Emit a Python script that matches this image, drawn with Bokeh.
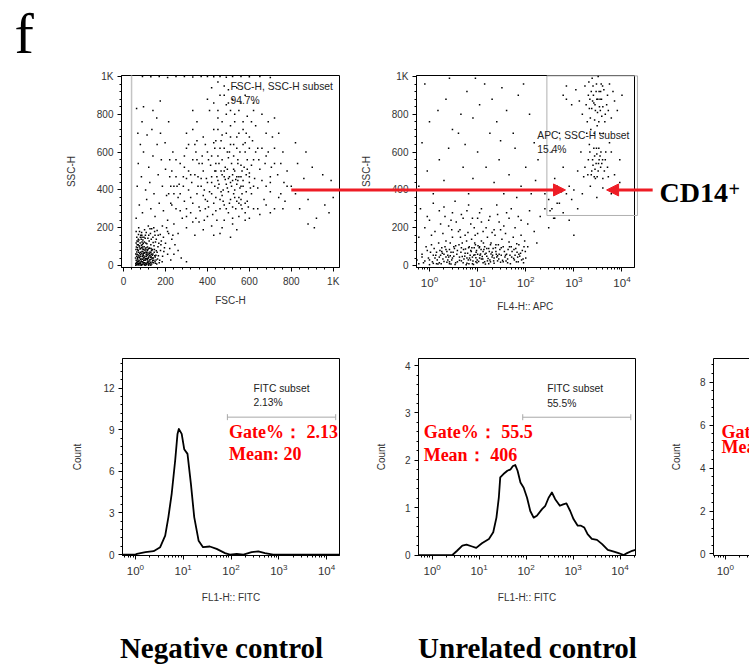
import numpy as np
from bokeh.plotting import figure
from bokeh.models import (Label, Arrow, NormalHead, SingleIntervalTicker, FixedTicker,
                          LogTickFormatter, Range1d, LogScale, LinearAxis, LogAxis)
from bokeh.embed import file_html
from bokeh.resources import INLINE

# ---------------- data ----------------
# Panel 1: FSC-H vs SSC-H
fsc_ssc_points = [
    (62,5),(70,12),(78,3),(85,20),(92,8),(100,15),(108,4),(115,25),(122,10),(130,2),
    (68,30),(75,42),(83,35),(90,50),(97,28),(104,38),(112,55),(120,45),(128,32),(136,18),
    (64,60),(72,70),(80,58),(88,75),(95,65),(102,80),(110,68),(118,88),(126,72),(134,60),
    (142,40),(150,22),(158,8),(66,95),(74,105),(82,90),(90,112),(98,100),(106,120),(114,98),
    (122,130),(130,110),(138,85),(146,70),(154,55),(162,35),(170,15),(60,120),(70,140),(80,150),
    (92,135),(104,160),(116,145),(128,170),(140,150),(152,125),(164,100),(176,80),(186,50),(60,180),
    (72,200),(86,175),(100,190),(118,210),(134,195),(148,180),(165,160),(180,130),(195,95),(210,60),
    (225,30),(65,20),(73,52),(81,10),(87,63),(94,40),(99,6),(107,72),(113,33),(119,14),
    (125,52),(133,78),(139,26),(145,105),(57,40),(59,85),(63,150),(96,85),(111,115),(88,125),
    (76,180),(124,92),(141,122),(156,140),(168,118),(190,150),(200,118),(215,170),(230,140),(245,110),
    (260,80),(240,60),(275,40),(300,20),(66,8),(84,2),(102,28),(117,6),(71,22),(93,18),
    (61,16),(67,44),(69,3),(74,26),(77,65),(79,18),(82,48),(86,6),(89,33),(91,88),
    (93,58),(96,14),(98,42),(101,68),(103,2),(105,30),(107,95),(109,48),(111,12),(114,78),
    (116,38),(117,58),(121,22),(123,65),(127,8),(129,44),(131,90),(135,35),(137,55),(143,15),
    (147,85),(151,45),(155,30),(160,70),(166,52),(172,28),(178,110),(184,20),(192,75),(58,10),
    (63,72),(65,110),(69,128),(71,165),(84,140),(87,160),(99,125),(103,145),(108,175),(120,160),
    (126,195),(132,140),(144,200),(150,160),(160,185),(175,165),(185,210),(205,200),(220,90),(235,160),
    (58,2),(60,28),(62,50),(64,14),(66,36),(68,58),(70,80),(72,6),(74,46),(76,12),
    (78,88),(80,34),(82,70),(84,24),(86,96),(88,4),(90,20),(92,74),(94,52),(96,28),
    (98,66),(100,4),(102,50),(104,88),(106,12),(108,60),(110,36),(112,84),(114,18),(116,66),
    (118,40),(120,2),(122,92),(124,30),(126,56),(128,18),(130,68),(132,46),(134,8),(136,84),
    (138,40),(140,62),(144,28),(148,52),(152,12),(156,78),(58,62),(61,98),(64,130),(67,84),
    (70,110),(73,135),(76,98),(79,120),(82,160),(85,108),(88,150),(91,98),(94,118),(97,150),
    (60,250),(75,320),(90,280),(110,350),(130,300),(150,260),(170,330),(190,290),(210,240),(65,420),
    (85,470),(105,400),(125,440),(145,380),(165,480),(185,420),(205,370),(225,330),(70,540),(95,600),
    (120,520),(140,580),(160,640),(180,560),(200,510),(220,470),(68,700),(88,760),(112,690),(135,720),
    (158,780),(176,700),(198,650),(62,830),(95,840),(140,820),(175,870),(215,760),(235,600),(80,640),
    (240,420),(210,180),(240,220),(260,170),(280,250),(300,200),(320,280),(340,160),(360,230),(380,190),
    (400,260),(420,210),(440,290),(460,170),(480,240),(500,280),(520,220),(550,260),(580,240),(620,300),
    (650,270),(700,280),(300,260),(330,230),(270,290),(250,300),(390,300),(430,160),(470,200),(510,150),
    (540,190),(230,320),(260,360),(290,340),(310,400),(330,330),(350,380),(370,420),(390,350),(410,390),
    (430,330),(450,410),(470,370),(490,430),(510,350),(530,400),(550,360),(570,420),(590,340),(610,380),
    (640,410),(670,350),(700,390),(740,360),(780,420),(360,310),(400,440),(440,360),(480,320),(520,450),
    (560,320),(600,440),(460,350),(500,390),(540,430),(420,440),(380,370),(540,340),(560,350),(580,330),
    (530,360),(250,470),(290,520),(320,480),(350,560),(380,500),(400,600),(420,470),(440,540),(460,620),
    (480,500),(500,570),(520,480),(540,620),(560,530),(580,600),(600,490),(620,560),(650,510),(680,580),
    (720,540),(760,600),(300,620),(340,640),(430,650),(470,560),(510,640),(550,470),(590,560),(640,620),
    (700,470),(300,700),(350,760),(380,680),(410,820),(430,720),(450,780),(470,690),(490,850),(510,740),
    (530,800),(550,700),(570,760),(600,680),(630,740),(680,700),(720,780),(400,880),(460,900),(520,880),
    (560,860),(620,820),(330,820),(440,660),(490,700),(580,650),(90,1000),(130,998),(170,1000),(210,995),
    (250,1000),(290,1000),(330,997),(370,1000),(400,1000),(430,999),(460,1000),(490,996),(520,1000),(560,1000),
    (600,998),(650,1000),(700,995),(450,970),(480,950),(420,940),(500,930),(800,420),(820,380),(840,300),
    (860,460),(880,350),(900,520),(920,250),(940,400),(960,320),(980,280),(1000,360),(830,540),(870,600),
    (910,200),(950,480),(990,450),(780,500),(760,300),(820,650),(880,220),(445,470),(465,500),(485,455),
    (505,470),(525,510),(455,430),(475,400),(495,510),(515,420),(545,450),(565,380),(435,500),(415,530),
    (395,460),(375,540),(355,470),(605,410),(625,460),(585,480),(565,500),(545,540),(525,580),(505,600),
    (420,380),(435,420),(450,450),(465,390),(480,470),(495,410),(510,440),(525,380),(540,470),(555,410),
    (570,450),(585,390),(600,470),(440,500),(455,540),(470,480),(485,520),(500,460),(515,540),(530,500),
    (545,560),(560,470),(575,520),(590,510),(610,530),(460,300),(475,340),(490,300),(505,330),(520,310),
    (535,300),(550,330),(565,300),(580,280),(595,310),(400,340),(385,400),(370,460),(355,420),(340,480),
    (325,440),(310,500),(300,460),(285,420),(270,380),(255,420),(240,380),(225,420),(215,380),(330,560),
    (345,600),(360,540),(375,580),(390,640),(405,560),(420,580),(435,620),(450,580),(465,660),(480,620),
    (495,600),(510,680),(525,640),(540,680),(555,600),(570,640),(585,700),(600,620),(615,660),(630,600),
    (645,560),(660,620),(675,540),(690,600),(705,520),(720,620),(735,480),(750,540),(765,440),(450,720),
    (470,760),(490,800),(510,820),(530,760),(550,820),(570,720),(590,790),(610,760),(450,820),(430,860),
    (480,900),(500,860),(540,940),(580,900),(620,860),(660,800),(690,760),(710,680),(740,700),(350,660),
    (330,720),(310,640),(290,580),(270,540),(250,560),(230,500),(220,560),(285,470),(265,430),(300,300),
    (320,360),(345,250),(365,290),(385,240),(405,310),(425,270),(445,240),(520,250),(600,250),(640,300),
    (680,320),(720,300),(750,380),(770,340),(660,450),(620,420),(680,420),(700,440),(560,420),(535,455)]
fsc = [pt[0] for pt in fsc_ssc_points]
ssc1 = [pt[1] for pt in fsc_ssc_points]

# Panel 2: FL4-H APC vs SSC-H
apc_ssc_points = [
    (0.6,10),(0.8,25),(1.0,5),(1.3,40),(1.6,15),(2.0,60),(2.4,30),(2.8,8),(3.2,50),(3.8,20),
    (4.5,70),(5.2,35),(6.0,12),(7.0,55),(8.0,25),(9.5,80),(11,40),(13,15),(15,65),(18,30),
    (21,90),(25,45),(30,18),(36,75),(42,35),(50,100),(60,55),(70,20),(85,80),(100,40),
    (0.7,45),(0.9,80),(1.1,110),(1.4,70),(1.8,95),(2.2,130),(2.6,85),(3.0,150),(3.5,105),(4.0,180),
    (4.8,120),(5.5,160),(6.5,95),(7.5,140),(9,110),(10,170),(12,130),(14,100),(16,150),(19,120),
    (23,160),(27,110),(32,140),(38,170),(45,125),(55,150),(65,115),(80,160),(95,130),(110,100),
    (0.6,150),(0.8,200),(1.0,240),(1.3,180),(1.7,220),(2.1,260),(2.5,210),(3.0,280),(3.6,230),(4.3,190),
    (5.0,250),(6.0,290),(7.2,220),(8.5,200),(10,250),(12,230),(15,200),(18,260),(22,190),(28,230),
    (35,210),(45,250),(60,200),(80,240),(110,220),(1.5,8),(2.3,18),(3.4,6),(4.2,28),(5.8,4),
    (6.8,40),(7.8,10),(8.8,58),(10.5,22),(12.5,48),(14.5,8),(16.5,38),(19,62),(22,12),(26,52),
    (33,28),(40,60),(48,10),(56,38),(66,70),(75,50),(90,15),(1.9,35),(2.7,52),(4.8,48),
    (5.6,88),(6.4,30),(9.2,42),(11.5,62),(13.5,85),(0.65,300),(1.2,330),(2.0,310),(3.4,340),(6.5,320),
    (12,300),(25,320),(50,300),(120,290),(150,180),(170,120),(200,260),(250,300),(2.2,45),(2.6,20),
    (3.1,70),(1.2,12),(1.7,55),(7.4,75),(8.2,6),(9.8,30),(10.8,95),(17,10),(20,45),(24,75),
    (0.55,30),(0.7,60),(0.75,15),(0.85,100),(0.95,40),(1.05,70),(1.15,20),(1.25,90),(1.35,55),(1.45,30),
    (1.55,120),(1.65,80),(1.75,10),(1.85,65),(2.1,100),(2.3,75),(2.5,45),(2.7,120),(2.9,30),(3.3,90),
    (3.7,60),(4.1,110),(4.6,25),(5.1,85),(5.4,50),(5.9,130),(6.2,65),(6.7,100),(7.1,30),(7.6,95),
    (8.3,55),(8.7,120),(9.3,70),(9.7,15),(10.2,105),(11.2,55),(11.8,85),(12.8,35),(13.2,120),(14.2,60),
    (15.5,90),(16,25),(17.5,75),(18.5,110),(20.5,55),(21.5,25),(23.5,95),(24.5,60),(27.5,35),(29,85),
    (31,55),(34,100),(37,45),(39,25),(43,85),(47,55),(52,75),(58,30),(62,90),(68,45),
    (72,110),(78,65),(88,35),(98,75),(1.1,160),(1.9,170),(2.9,190),(4.4,150),(6.3,175),(8.9,160),
    (13,180),(20,175),(30,190),(0.9,260),(1.6,290),(2.8,240),(4.6,270),(7.8,250),(11,280),(17,240),
    (26,270),(40,280),(70,260),
    (1.0,30),(1.2,55),(1.4,10),(1.6,45),(1.8,75),(2.0,22),(2.2,85),(2.4,55),(2.6,10),(2.8,70),
    (3.0,40),(3.2,100),(3.5,15),(3.8,80),(4.2,45),(4.6,95),(5.0,15),(5.5,65),(6.0,40),(6.6,10),
    (7.2,80),(7.8,45),(8.5,95),(9.2,20),(10,60),(11,100),(12,35),(13,75),(14,20),(15.5,50),
    (17,90),(18.5,20),(20,70),(22,40),(24,110),(26,25),(28,60),(31,95),(34,20),(38,55),
    (42,15),(46,100),(51,45),(57,85),(64,20),(72,60),(82,30),(92,100),
    (0.6,420),(0.9,500),(1.2,380),(1.6,560),(2.0,450),(2.5,620),(3.2,400),(4.0,700),(5,520),(6.5,380),
    (8,460),(10,600),(12,400),(15,520),(18,700),(22,440),(28,560),(35,380),(45,480),(60,620),
    (80,420),(100,520),(130,380),(160,450),(0.7,650),(1.0,760),(1.5,820),(2.2,880),(3,720),(4.5,800),
    (6,920),(8,780),(11,850),(14,960),(20,880),(25,760),(32,940),(40,820),(55,700),(70,900),
    (90,960),(120,800),(150,650),(180,560),(0.8,960),(2.6,990),(9,990),(5.5,640),(30,660),(65,360),
    (250,380),(300,200),(350,300),(400,250),(450,420),(500,330),(600,280),(700,380),(800,240),(900,350),
    (1000,160),(1200,300),(600,520),(400,460),(350,600),(500,700),(700,880),
    (1500,800),(1800,850),(2000,900),(2200,780),(2500,950),(2800,820),(3000,880),(3300,760),(3600,920),(4000,840),
    (4500,800),(5000,900),(5500,960),(6000,780),(7000,870),(1700,950),(2400,990),(3200,1000),(2600,860),(2900,920),
    (3400,840),(3800,790),(2100,830),(4200,930),(1300,870),(8000,820),(10000,900),(3100,810),(2700,770),(3500,880),
    (2300,920),(4800,850),(1900,760),(5200,820),(6500,920),(2450,870),(3700,960),(2050,970),(4400,760),
    (2150,880),(2350,830),(2550,900),(2750,850),(2950,960),(3150,880),(3350,920),(3550,820),(3750,880),(3950,950),
    (2250,720),(2650,700),(3050,740),(3450,700),(4100,700),(1850,700),
    (1400,600),(1700,520),(2000,560),(2300,480),(2600,620),(2900,540),(3200,500),(3500,580),(4000,460),(4500,560),
    (5000,520),(6000,600),(7000,480),(2100,640),(2800,460),(3300,620),(3800,540),(4300,500),(1600,470),(2500,530),
    (3000,590),(5500,650),(9000,560),(1200,500),(2700,580),(3600,520),
    (2150,600),(2450,560),(2750,510),(3050,470),(3350,560),(3650,600),(3950,560),(2350,500),(2650,470),(2950,620),
    (3250,540),(1950,480),(4600,600),(5200,470),
    (1000,400),(1500,380),(2200,420),(3000,360),(4000,410),(6000,380),(800,420),(9000,440),
    (300,350),(450,330),(550,390),(320,290),(380,250),(600,900),(700,950),(900,850),(1100,930)]
apc = [pt[0] for pt in apc_ssc_points]
ssc2 = [pt[1] for pt in apc_ssc_points]

# Gates
fsc_gate_left = 38
apc_gate_x = [275, 21000]
apc_gate_ssc = [265, 1003]

# Arrow anchor values (data units of the dot plots)
arrow_ssc = 400
arrow1_fsc_start = 800
arrow1_apc_end = 670
arrow2_apc_start = 43400
arrow2_apc_end = 4790

# Histograms (FL1-H FITC, Count)
neg_fitc = [0.54, 1.0, 1.08, 1.62, 2.4, 3.3, 4.2, 4.9, 5.75, 6.8, 7.6, 8.1, 9.3, 10.5, 12.3,
            14.5, 17, 21, 26, 36, 50, 75, 95, 132, 182, 270, 372, 513, 760, 18600]
neg_count = [0, 0, 0.05, 0.17, 0.24, 0.53, 1.37, 2.7, 4.4, 6.8, 8.7, 9.06, 8.7, 7.6, 7.26,
             5.1, 2.7, 1.0, 0.53, 0.58, 0.41, 0.1, 0.0, 0.05, 0, 0.17, 0.22, 0.1, 0, 0]

unrel_fitc = [0.5, 2.7, 3.4, 4.4, 5.4, 7.1, 8.7, 11.5, 16.2, 20, 23.4, 26.3, 28.2, 33, 40, 47,
              52.5, 59, 66, 76, 89, 105, 123, 145, 170, 219, 257, 302, 355, 417, 525, 617,
              724, 871, 1023, 1259, 1479, 1738, 2042, 2512, 3236, 4169, 5495, 7413, 9333,
              12023, 14125, 18197, 21380]
unrel_count = [0, 0, 0.09, 0.2, 0.22, 0.18, 0.15, 0.25, 0.34, 0.48, 0.79, 1.21, 1.64, 1.71,
               1.78, 1.81, 1.88, 1.9, 1.78, 1.53, 1.42, 1.21, 0.93, 0.79, 0.83, 0.97, 1.04,
               1.21, 1.32, 1.18, 1.04, 1.07, 1.09, 0.93, 0.76, 0.62, 0.62, 0.58, 0.44, 0.34,
               0.32, 0.23, 0.11, 0.07, 0.04, 0.0, 0.04, 0.09, 0.11]

neg_gate_x = [84, 15500]
neg_gate_y = 9.91
unrel_gate_x = [85, 17000]
unrel_gate_y = 2.91

RED_TEXT = "#ff0000"
RED_ARROW = "#ee1c25"
SANS = "Liberation Sans"
SERIF = "Liberation Serif"

# ---------------- geometry (page pixels, y downward) ----------------
W, H = 749, 664
# name: (data/log start, data/log end, pixel start, pixel end, log?)
X_PANELS = {
    "A": (-10, 1030, 121, 339, False),
    "B": (-0.27, 4.26, 416, 634, True),
    "C": (-0.27, 4.27, 122, 339, True),
    "D": (-0.29, 4.33, 418, 635, True),
    "E": (-0.25, 0.51, 713, 749, True),
}
# name: (data start, data end, pixel bottom, pixel top)
Y_PANELS = {
    "top": (-10, 1005, 267, 75),
    "C": (-0.07, 14.14, 555, 358),
    "D": (-0.01, 4.15, 555, 358),
    "E": (-0.07, 9.1, 555, 358),
}


def extend(d0, d1, p0, p1, total):
    k = (p1 - p0) / (d1 - d0)
    return d0 - p0 / k, d1 + (total - p1) / k


p = figure(width=W, height=H, x_range=Range1d(0, W), y_range=Range1d(H, 0),
           min_border=0, x_axis_location=None, y_axis_location=None,
           output_backend="svg", toolbar_location=None, title=None)
p.grid.visible = False
p.outline_line_color = None
p.background_fill_color = "white"
p.border_fill_color = "white"

xr, xs, xbounds = {}, {}, {}
for name, (d0, d1, a, b, is_log) in X_PANELS.items():
    lo, hi = extend(d0, d1, a, b, W)
    if is_log:
        xr[name] = Range1d(10 ** lo, 10 ** hi)
        xs[name] = LogScale()
        xbounds[name] = (10 ** d0, 10 ** d1)
    else:
        xr[name] = Range1d(lo, hi)
        xbounds[name] = (d0, d1)
yr, ybounds = {}, {}
for name, (d0, d1, pb, pt) in Y_PANELS.items():
    lo, hi = extend(d0, d1, H - pb, H - pt, H)
    yr[name] = Range1d(lo, hi)
    ybounds[name] = (d0, d1)
p.extra_x_ranges = xr
p.extra_y_ranges = yr
p.extra_x_scales = xs

log_major = [1, 10, 100, 1000, 10000]
log_minor = [m * 10 ** k for k in range(-1, 5) for m in range(2, 10)]


def style_axis(ax, label_size="10px"):
    ax.axis_line_color = "black"
    ax.major_tick_line_color = "black"
    ax.minor_tick_line_color = "black"
    ax.major_tick_in = 0
    ax.major_tick_out = 4
    ax.minor_tick_in = 0
    ax.minor_tick_out = 2
    ax.major_label_text_font = SANS
    ax.major_label_text_font_size = label_size
    ax.major_label_text_color = "#333333"
    ax.axis_label_text_font = SANS
    ax.axis_label_text_font_size = "10px"
    ax.axis_label_text_font_style = "normal"
    ax.axis_label_text_color = "#333333"
    ax.major_label_standoff = 4


def panel_axes(xn, yn, xlabel, ylabel, yticker, ylab_standoff, xlab_standoff, overrides=None):
    x_is_log = X_PANELS[xn][4]
    xb, yb = xbounds[xn], ybounds[yn]
    if x_is_log:
        lo, hi = xb
        xa = LogAxis(x_range_name=xn, y_range_name=yn, fixed_location=yb[0], bounds=xb,
                     ticker=FixedTicker(ticks=[t for t in log_major if lo <= t <= hi],
                                        minor_ticks=[t for t in log_minor if lo <= t <= hi]),
                     formatter=LogTickFormatter())
        style_axis(xa, "11.5px")
    else:
        xa = LinearAxis(x_range_name=xn, y_range_name=yn, fixed_location=yb[0], bounds=xb,
                        ticker=SingleIntervalTicker(interval=200, num_minor_ticks=5))
        style_axis(xa)
        if overrides:
            xa.major_label_overrides = overrides
    xa.axis_label = xlabel
    xa.axis_label_standoff = xlab_standoff
    p.add_layout(xa, "below")
    ya = LinearAxis(x_range_name=xn, y_range_name=yn, fixed_location=xb[0], bounds=yb,
                    ticker=yticker)
    style_axis(ya)
    if overrides:
        ya.major_label_overrides = overrides
    ya.axis_label = ylabel
    ya.axis_label_standoff = ylab_standoff
    p.add_layout(ya, "left")


def outline(xn, yn):
    (x0, x1), (y0, y1) = xbounds[xn], ybounds[yn]
    p.quad(left=[x0], right=[x1], bottom=[y0], top=[y1], fill_color=None,
           line_color="black", line_width=1, x_range_name=xn, y_range_name=yn)


def lab(x, y, text, size, color="#222222", font=SANS, bold=False, align="left",
        baseline="middle", xn="default", yn="default"):
    p.add_layout(Label(x=x, y=y, text=text, text_font=font, text_font_size=size,
                       text_color=color, text_font_style="bold" if bold else "normal",
                       text_align=align, text_baseline=baseline,
                       x_range_name=xn, y_range_name=yn))


DOT = 1.5

# ---------------- panel A ----------------
outline("A", "top")
panel_axes("A", "top", "FSC-H", "SSC-H",
           SingleIntervalTicker(interval=200, num_minor_ticks=5), 17, 5, {1000: "1K"})
p.segment(x0=[fsc_gate_left], y0=[ybounds["top"][0]], x1=[fsc_gate_left], y1=[ybounds["top"][1]],
          line_color="#c4c4c4", line_width=1.5, x_range_name="A", y_range_name="top")
p.scatter(fsc, ssc1, marker="square", size=DOT, color="black", line_width=0,
          x_range_name="A", y_range_name="top")
lab(510, 947, "FSC-H, SSC-H subset", "10.3px", xn="A", yn="top")
lab(510, 873, "94.7%", "10.3px", xn="A", yn="top")

# ---------------- panel B ----------------
outline("B", "top")
panel_axes("B", "top", "FL4-H:: APC", "SSC-H",
           SingleIntervalTicker(interval=200, num_minor_ticks=5), 17, 11, {1000: "1K"})
p.quad(left=[apc_gate_x[0]], right=[apc_gate_x[1]], bottom=[apc_gate_ssc[0]],
       top=[apc_gate_ssc[1]], fill_color=None, line_color="#b0b0b0", line_width=1,
       x_range_name="B", y_range_name="top")
p.scatter(apc, ssc2, marker="square", size=DOT, color="black", line_width=0,
          x_range_name="B", y_range_name="top")
lab(174, 688, "APC, SSC-H subset", "10.3px", xn="B", yn="top")
lab(174, 612, "15.4%", "10.3px", xn="B", yn="top")

# ---------------- panel C ----------------
outline("C", "C")
panel_axes("C", "C", "FL1-H:: FITC", "Count",
           SingleIntervalTicker(interval=3, num_minor_ticks=5), 17, 14)
p.line(neg_fitc, neg_count, line_color="black", line_width=1.8, line_join="round",
       x_range_name="C", y_range_name="C")
p.line(neg_gate_x, [neg_gate_y] * 2, line_color="#a8a8a8", line_width=1,
       x_range_name="C", y_range_name="C")
p.scatter(neg_gate_x, [neg_gate_y] * 2, marker="dash", angle=np.pi / 2, size=6,
          line_color="#a8a8a8", line_width=1, x_range_name="C", y_range_name="C")
lab(295, 11.95, "FITC subset", "10.3px", xn="C", yn="C")
lab(295, 10.95, "2.13%", "10.3px", xn="C", yn="C")
lab(91, 8.82, "Gate%： 2.13", "18px", color=RED_TEXT, font=SERIF, bold=True, xn="C", yn="C")
lab(91, 7.27, "Mean: 20", "18px", color=RED_TEXT, font=SERIF, bold=True, xn="C", yn="C")

# ---------------- panel D ----------------
outline("D", "D")
panel_axes("D", "D", "FL1-H:: FITC", "Count",
           SingleIntervalTicker(interval=1, num_minor_ticks=5), 15, 14)
p.line(unrel_fitc, unrel_count, line_color="black", line_width=1.8, line_join="round",
       x_range_name="D", y_range_name="D")
p.line(unrel_gate_x, [unrel_gate_y] * 2, line_color="#a8a8a8", line_width=1,
       x_range_name="D", y_range_name="D")
p.scatter(unrel_gate_x, [unrel_gate_y] * 2, marker="dash", angle=np.pi / 2, size=6,
          line_color="#a8a8a8", line_width=1, x_range_name="D", y_range_name="D")
lab(281, 3.51, "FITC subset", "10.3px", xn="D", yn="D")
lab(281, 3.21, "55.5%", "10.3px", xn="D", yn="D")
lab(0.66, 2.59, "Gate%： 55.5", "18px", color=RED_TEXT, font=SERIF, bold=True, xn="D", yn="D")
lab(0.66, 2.12, "Mean： 406", "18px", color=RED_TEXT, font=SERIF, bold=True, xn="D", yn="D")

# ---------------- panel E (cut off at the right edge) ----------------
panel_axes("E", "E", "", "Count", SingleIntervalTicker(interval=2, num_minor_ticks=5), 15, 14)
p.segment(x0=[xbounds["E"][0]], y0=[ybounds["E"][1]], x1=[xbounds["E"][1]], y1=[ybounds["E"][1]],
          line_color="black", line_width=1, x_range_name="E", y_range_name="E")
lab(0.83, 5.67, "Gate%：", "18px", color=RED_TEXT, font=SERIF, bold=True, xn="E", yn="E")
lab(0.83, 4.97, "Mean：", "18px", color=RED_TEXT, font=SERIF, bold=True, xn="E", yn="E")


# ---------------- arrows and figure texts (page pixel coordinates) ----------------
def px_x(name, v):
    d0, d1, a, b, is_log = X_PANELS[name]
    t = np.log10(v) if is_log else v
    return a + (t - d0) / (d1 - d0) * (b - a)


def px_y(name, v):
    d0, d1, pb, pt = Y_PANELS[name]
    return pb - (v - d0) / (d1 - d0) * (pb - pt)


ay = px_y("top", arrow_ssc)
head = dict(size=12, fill_color=RED_ARROW, line_color=RED_ARROW, line_width=1)
p.add_layout(Arrow(end=NormalHead(**head), x_start=px_x("A", arrow1_fsc_start), y_start=ay,
                   x_end=px_x("B", arrow1_apc_end), y_end=ay, line_color=RED_ARROW, line_width=3))
p.add_layout(Arrow(end=NormalHead(**head), x_start=px_x("B", arrow2_apc_start), y_start=ay,
                   x_end=px_x("B", arrow2_apc_end), y_end=ay, line_color=RED_ARROW, line_width=3))
lab(14, 33, "f", "58px", color="black", font=SERIF)
lab(659, 191.5, "CD14", "28px", color="black", font=SERIF, bold=True)
lab(728, 188, "+", "20px", color="black", font=SERIF, bold=True)
lab(221, 647, "Negative control", "29px", color="black", font=SERIF, bold=True, align="center")
lab(527, 647, "Unrelated control", "29px", color="black", font=SERIF, bold=True, align="center")

with open("out.html", "w") as f:
    f.write(file_html(p, INLINE))
